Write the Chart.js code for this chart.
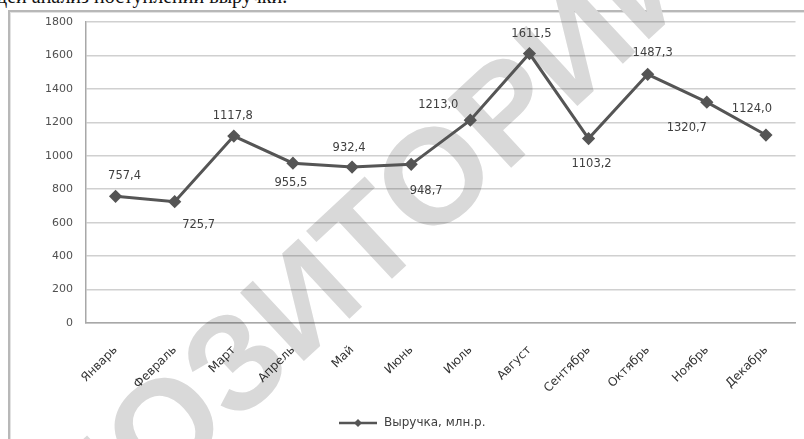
<!DOCTYPE html>
<html lang="ru">
<head>
<meta charset="UTF-8">
<title>Выручка, млн.р.</title>
<script src="https://cdn.jsdelivr.net/npm/chart.js"></script>
<style>
  html, body { margin: 0; padding: 0; background: #fff; }
  body { width: 804px; height: 439px; position: relative; overflow: hidden; }
  .caption {
    position: absolute; left: -3px; top: -15px;
    font: 20px "Liberation Serif", serif; color: #111; white-space: nowrap;
  }
  .frame {
    position: absolute; left: 8px; top: 10px; width: 900px; height: 600px;
    border-left: 2px solid #b8b8b8; border-top: 2px solid #b8b8b8;
    box-shadow: inset 1px 1px 0 #e2e2e2;
  }
  #chart { position: absolute; left: 0; top: 0; }
</style>
</head>
<body>
<div class="caption">дей анализ поступлений выручки.</div>
<div class="frame"></div>
<canvas id="chart" width="804" height="439"></canvas>

<script>
// data
const months = ['Январь', 'Февраль', 'Март', 'Апрель', 'Май', 'Июнь',
                'Июль', 'Август', 'Сентябрь', 'Октябрь', 'Ноябрь', 'Декабрь'];
const revenue = [757.4, 725.7, 1117.8, 955.5, 932.4, 948.7,
                 1213.0, 1611.5, 1103.2, 1487.3, 1320.7, 1124.0];
const seriesName = 'Выручка, млн.р.';
const yTicks = [0, 200, 400, 600, 800, 1000, 1200, 1400, 1600, 1800];

// where each value label sits relative to its point (dx, dy in px)
const labelShift = [[9, -20], [24, 23], [-1, -20], [-2, 20], [-3, -19], [15, 27],
                    [-32, -15], [2, -20], [3, 25], [5, -21], [-20, 26], [-14, -26]];

const lineColor = '#555555';

// legend marker: line with a diamond, like Excel
const marker = document.createElement('canvas');
marker.width = 38; marker.height = 10;
(function () {
  const c = marker.getContext('2d');
  c.strokeStyle = lineColor; c.lineWidth = 2.5;
  c.beginPath(); c.moveTo(0, 5); c.lineTo(38, 5); c.stroke();
  c.fillStyle = lineColor;
  c.beginPath(); c.moveTo(19, 1); c.lineTo(23, 5); c.lineTo(19, 9); c.lineTo(15, 5); c.closePath(); c.fill();
})();

// big grey watermark across the picture
const watermark = {
  id: 'watermark',
  beforeDatasetsDraw(chart) {
    const ctx = chart.ctx;
    ctx.save();
    ctx.globalCompositeOperation = 'multiply';
    ctx.fillStyle = '#d9d9d9';
    ctx.font = 'bold 136px "Liberation Sans", sans-serif';
    ctx.translate(308, 306);
    ctx.rotate(-43 * Math.PI / 180);
    ctx.textAlign = 'center';
    ctx.textBaseline = 'middle';
    ctx.fillText('РЕПОЗИТОРИЙ', 0, 0);
    ctx.restore();
  }
};

// value labels next to the points
const valueLabels = {
  id: 'valueLabels',
  afterDatasetsDraw(chart) {
    const ctx = chart.ctx;
    const meta = chart.getDatasetMeta(0);
    ctx.save();
    ctx.font = '11.5px "DejaVu Sans", sans-serif';
    ctx.fillStyle = '#3f3f3f';
    ctx.textAlign = 'center';
    ctx.textBaseline = 'middle';
    meta.data.forEach((pt, i) => {
      const txt = revenue[i].toFixed(1).replace('.', ',');
      ctx.fillText(txt, pt.x + labelShift[i][0], pt.y + labelShift[i][1]);
    });
    ctx.restore();
  }
};

new Chart(document.getElementById('chart'), {
  type: 'line',
  data: {
    labels: months,
    datasets: [{
      label: seriesName,
      data: revenue,
      borderColor: lineColor,
      backgroundColor: lineColor,
      borderWidth: 3,
      pointStyle: 'rectRot',
      pointRadius: 4.5,
      pointBackgroundColor: lineColor,
      pointBorderColor: lineColor,
      tension: 0
    }]
  },
  options: {
    responsive: false,
    animation: false,
    layout: { padding: { top: 22, right: 8.5, left: 28, bottom: 0 } },
    plugins: {
      tooltip: { enabled: false },
      legend: {
        position: 'bottom',
        labels: {
          usePointStyle: true,
          pointStyle: marker,
          pointStyleWidth: 40,
          color: '#404040',
          font: { family: 'DejaVu Sans', size: 12 },
          padding: 6
        }
      }
    },
    scales: {
      x: {
        offset: true,
        grid: { display: false, drawTicks: false },
        border: { color: '#a8a8a8', width: 1.5 },
        ticks: {
          minRotation: 45, maxRotation: 45, padding: 20,
          color: '#333333',
          font: { family: 'DejaVu Sans', size: 12 }
        },
        afterFit(scale) { scale.height = 88; }
      },
      y: {
        min: 0, max: 1800,
        afterBuildTicks(scale) { scale.ticks = yTicks.map(v => ({ value: v })); },
        grid: { color: '#d0d0d0', lineWidth: 1.5, drawTicks: false },
        border: { color: '#a8a8a8', width: 1.5 },
        ticks: {
          padding: 13,
          color: '#505050',
          font: { family: 'DejaVu Sans', size: 11 },
          callback: v => String(v)
        },
        afterFit(scale) { scale.width = 58; }
      }
    }
  },
  plugins: [watermark, valueLabels]
});
</script>
</body>
</html>
